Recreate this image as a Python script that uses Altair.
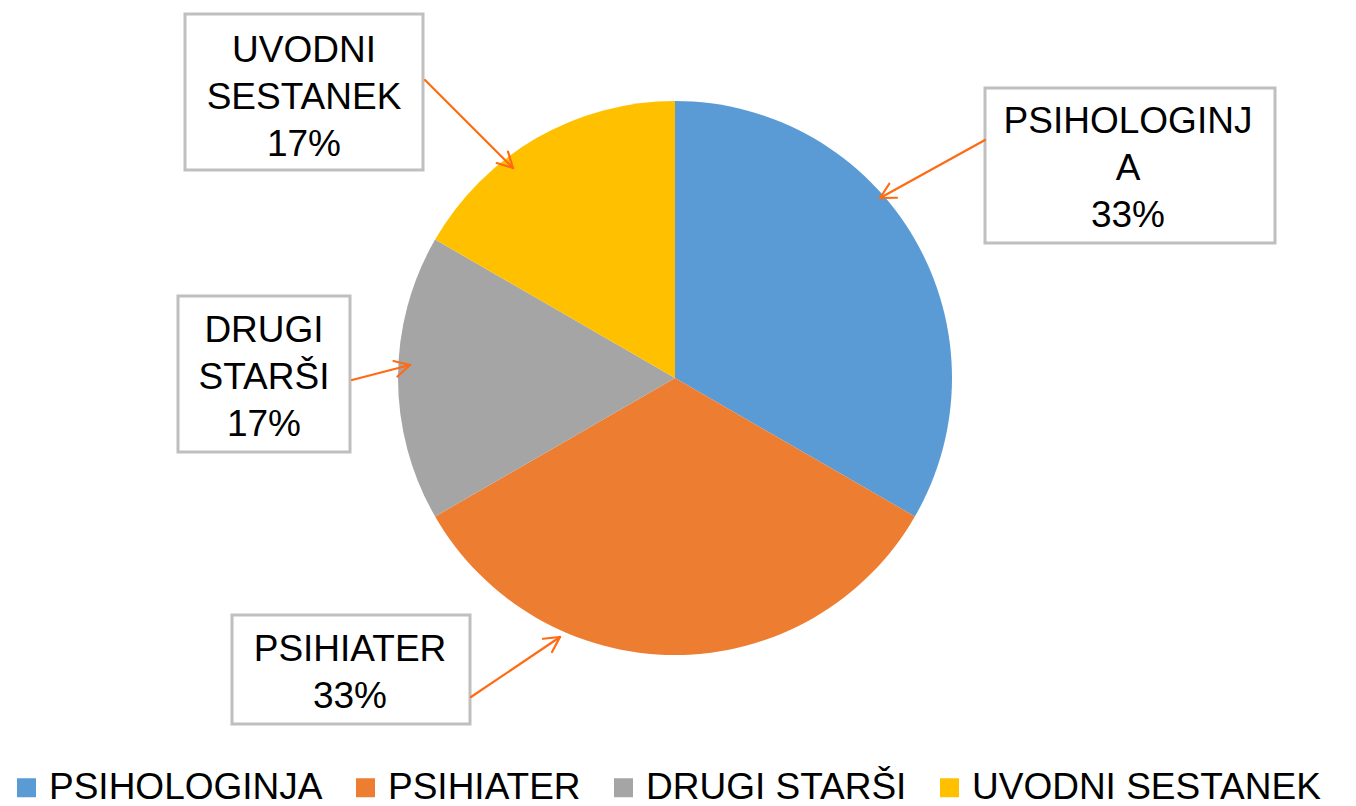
import altair as alt
import pandas as pd
import math

# ---- data ----
categories = ["PSIHOLOGINJA", "PSIHIATER", "DRUGI STARŠI", "UVODNI SESTANEK"]
values = [2, 2, 1, 1]
label_names = ["PSIHOLOGINJ\nA", "PSIHIATER", "DRUGI\nSTARŠI", "UVODNI\nSESTANEK"]
colors = ["#5B9BD5", "#ED7D31", "#A5A5A5", "#FFC000"]

# ---- layout (page coordinates, minus the 8px page margin) ----
M = 8
W, H = 1356 - 2 * M, 798
CX, CY, R = 675 - M, 378 - M, 277
FONT = "Liberation Sans"
FS = 37
LH = 47

# label boxes: x1, y1, x2, y2 ; first text line centre ; arrow start -> arrow tip
boxes = [
    (985, 88, 1275, 243),
    (232, 615, 470, 724),
    (178, 296, 350, 452),
    (185, 14, 423, 170),
]
text_firstline = [(1128, 122), (350, 650), (264, 331), (304, 51)]
arrows = [
    ((985, 140), (880, 198)),
    ((471, 697), (560, 637)),
    ((352, 380), (410, 365)),
    ((425, 80), (513, 168)),
]

total = sum(values)
pie_df = pd.DataFrame({
    "category": categories,
    "value": values,
    "order": list(range(len(categories))),
})

color_scale = alt.Scale(domain=categories, range=colors)

pie = alt.Chart(pie_df).mark_arc(outerRadius=R).encode(
    theta=alt.Theta("value:Q", stack=True),
    color=alt.Color(
        "category:N",
        scale=color_scale,
        sort=categories,
        legend=alt.Legend(
            title=None,
            orient="none",
            legendX=0,
            legendY=769 - M,
            direction="horizontal",
            columns=4,
            symbolType="square",
            symbolSize=361,
            symbolStrokeWidth=0,
            symbolOpacity=1,
            labelFont=FONT,
            labelFontSize=FS,
            labelColor="#000000",
            labelOffset=4,
            columnPadding=24,
            padding=0,
            labelLimit=500,
        ),
    ),
    order=alt.Order("order:Q"),
    x=alt.value(CX),
    y=alt.value(CY),
)

box_df = pd.DataFrame({
    "x1": [b[0] - M for b in boxes],
    "y1": [b[1] - M for b in boxes],
    "x2": [b[2] - M for b in boxes],
    "y2": [b[3] - M for b in boxes],
})
box_layer = alt.Chart(box_df).mark_rect(
    fill="white", stroke="#BFBFBF", strokeWidth=3
).encode(
    x=alt.X("x1:Q", scale=None),
    x2="x2:Q",
    y=alt.Y("y1:Q", scale=None),
    y2="y2:Q",
)

label_df = pd.DataFrame({
    "label": [
        f"{n}\n{round(v / total * 100)}%" for n, v in zip(label_names, values)
    ],
    "tx": [t[0] - M for t in text_firstline],
    "ty": [t[1] - M for t in text_firstline],
})
label_layer = alt.Chart(label_df).mark_text(
    font=FONT, fontSize=FS, color="#000000", lineBreak="\n",
    lineHeight=LH, align="center", baseline="middle",
).encode(
    x=alt.X("tx:Q", scale=None),
    y=alt.Y("ty:Q", scale=None),
    text="label:N",
)

# arrows: shaft + two head wings
segs = []
for (sx, sy), (ex, ey) in arrows:
    segs.append((sx, sy, ex, ey))
    ang = math.atan2(ey - sy, ex - sx)
    L = 17
    for d in (math.radians(28), -math.radians(28)):
        wx = ex - L * math.cos(ang + d)
        wy = ey - L * math.sin(ang + d)
        segs.append((wx, wy, ex, ey))
seg_df = pd.DataFrame(segs, columns=["x", "y", "x2", "y2"]) - M
arrow_layer = alt.Chart(seg_df).mark_rule(
    color="#FF6A13", strokeWidth=2.2, strokeCap="round"
).encode(
    x=alt.X("x:Q", scale=None),
    y=alt.Y("y:Q", scale=None),
    x2="x2:Q",
    y2="y2:Q",
)

chart = alt.layer(pie, box_layer, label_layer, arrow_layer).properties(
    width=W,
    height=H,
    autosize=alt.AutoSizeParams(type="none"),
    padding=0,
    background="white",
).configure_view(strokeWidth=0)

chart.save("out.html", embed_options={"renderer": "svg", "actions": False})
